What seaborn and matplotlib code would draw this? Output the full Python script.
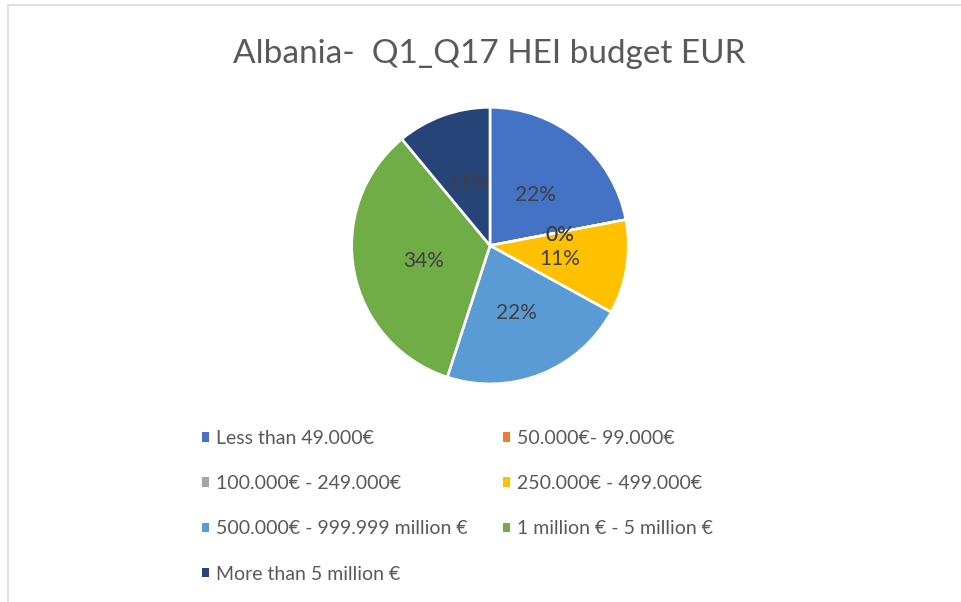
import matplotlib.pyplot as plt
import seaborn as sns
from matplotlib.lines import Line2D
from matplotlib.patches import Patch

categories = [
    "Less than 49.000€",
    "50.000€- 99.000€",
    "100.000€ - 249.000€",
    "250.000€ - 499.000€",
    "500.000€ - 999.999 million €",
    "1 million € - 5 million €",
    "More than 5 million €",
]
shares = [22, 0, 0, 11, 22, 34, 11]
colors = ["#4472C4", "#ED7D31", "#A5A5A5", "#FFC000", "#5B9BD5", "#70AD47", "#264478"]
title = "Albania-  Q1_Q17 HEI budget EUR"

sns.set_theme(style="white")
plt.rcParams['font.family'] = ['Lato', 'DejaVu Sans']

W, H = 961, 602
fig = plt.figure(figsize=(W / 100, H / 100), dpi=100)

# pie area in pixels: centre (490, 245.6), radius 138.3
cx, cy, r = 490.0, 245.6, 138.3
ax = fig.add_axes([(cx - r) / W, (H - cy - r) / H, 2 * r / W, 2 * r / H])
wedges, texts, autotexts = ax.pie(
    shares, colors=colors, startangle=90, counterclock=False,
    autopct='%1.0f%%', pctdistance=0.5,
    wedgeprops=dict(edgecolor='white', linewidth=1.9),
    textprops=dict(color='#404040', fontsize=15))
# excel puts the labels a little lower
for t in autotexts:
    x, y = t.get_position()
    t.set_position((x + 0.01, y - 0.02))
ax.set_xlim(-1, 1)
ax.set_ylim(-1, 1)
ax.set_aspect('equal')
ax.axis('off')

fig.text(489.5 / W, 1 - 54 / H, title, ha='center', va='center',
         fontsize=24, color='#595959')

handles = [Patch(facecolor=c, edgecolor='none') for c in colors]
legend_kw = dict(loc='upper left', frameon=False, fontsize=14, labelcolor='#595959',
                 handlelength=0.38, handleheight=0.38, handletextpad=0.33,
                 labelspacing=1.45, borderpad=0, borderaxespad=0)
top = 1 - 430 / H
fig.legend([handles[i] for i in (0, 2, 4, 6)], [categories[i] for i in (0, 2, 4, 6)],
           bbox_to_anchor=(202 / W, top), **legend_kw)
fig.legend([handles[i] for i in (1, 3, 5)], [categories[i] for i in (1, 3, 5)],
           bbox_to_anchor=(503 / W, top), **legend_kw)

# chart area border (only left and top edges visible in the crop)
fig.add_artist(Line2D([7.5 / W, 7.5 / W], [0, 1 - 5 / H], color='#D9D9D9', lw=1.2,
                      transform=fig.transFigure))
fig.add_artist(Line2D([7.5 / W, 1], [1 - 5 / H, 1 - 5 / H], color='#D9D9D9', lw=1.2,
                      transform=fig.transFigure))

fig.savefig("out.png", dpi=100, facecolor='white')
